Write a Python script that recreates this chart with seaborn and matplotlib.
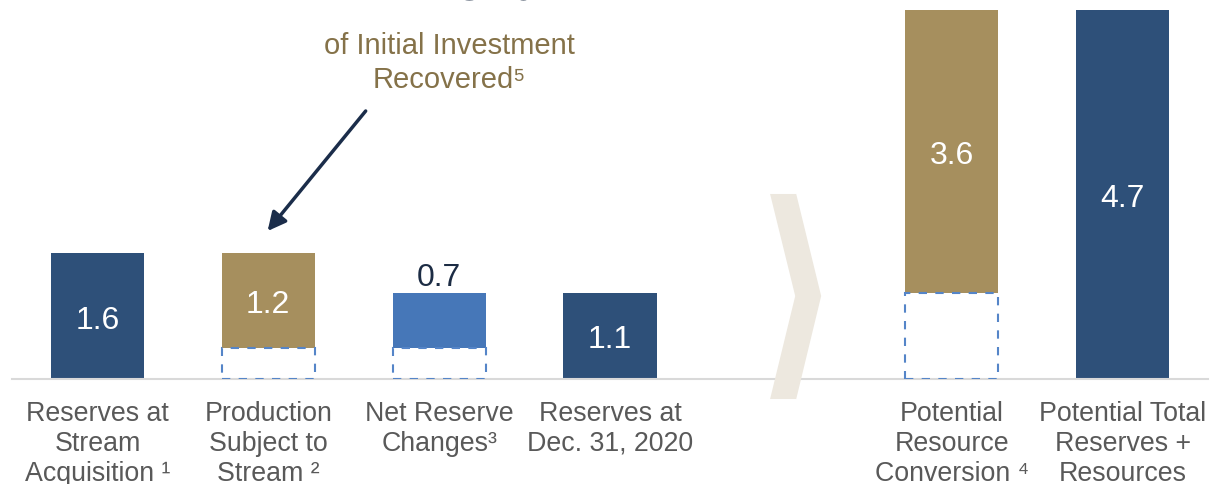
import numpy as np
import pandas as pd
import matplotlib.pyplot as plt
import seaborn as sns
from matplotlib.patches import Polygon

# waterfall steps
steps = ["Reserves at\nStream\nAcquisition \u00b9",
         "Production\nSubject to\nStream \u00b2",
         "Net Reserve\nChanges\u00b3",
         "Reserves at\nDec. 31, 2020",
         "",
         "Potential\nResource\nConversion \u2074",
         "Potential Total\nReserves +\nResources"]
values = [1.6, 1.2, 0.7, 1.1, 0.0, 3.6, 4.7]
bases = [0.0, 0.4, 0.4, 0.0, 0.0, 1.1, 0.0]
bar_colors = ["#2E5079", "#A68F5E", "#4677B8", "#2E5079", "#FFFFFF", "#A68F5E", "#2E5079"]
label_inside = [True, True, False, True, None, True, True]

sns.set_style("white")
plt.rcParams["font.family"] = ["Liberation Sans", "DejaVu Sans"]

df = pd.DataFrame({"step": steps, "value": values, "base": bases})

fig = plt.figure(figsize=(12.11, 4.85), dpi=100)
ax = fig.add_axes([12 / 1211, 105 / 485, 1196 / 1211, 380 / 485])

sns.barplot(data=df, x="step", y="value", bottom=df["base"].values,
            color=bar_colors[0], width=0.545, saturation=1, linewidth=0, ax=ax)
for patch, c in zip(ax.patches, bar_colors):
    patch.set_facecolor(c)

# dashed outline under the floating bars
xs = np.arange(len(steps))
for i, b in enumerate(bases):
    if b > 0:
        ax.bar(xs[i], b, width=0.545, fill=False, edgecolor="#5585C8",
               linestyle=(0, (4, 4)), linewidth=1.5, zorder=3)

# value labels
for i, (v, b, inside) in enumerate(zip(values, bases, label_inside)):
    if inside is None:
        continue
    if inside:
        ax.text(i, b + v / 2, f"{v}", ha="center", va="center_baseline",
                color="white", fontsize=23)
    else:
        ax.text(i, b + v + 0.01, f"{v}", ha="center", va="bottom",
                color="#1C2C44", fontsize=23)

# chevron separator
chev = Polygon([(3.937, 2.357), (4.090, 2.357), (4.236, 1.057),
                (4.090, -0.255), (3.937, -0.255), (4.084, 1.057)],
               closed=True, facecolor="#EDE8DF", edgecolor="none",
               zorder=5, clip_on=False)
ax.add_patch(chev)

# callout
ax.text(2.06, 4.83, "~115%", ha="center", va="baseline", fontsize=40,
        fontweight="bold", color="#1C2C44", clip_on=False)
ax.text(2.06, 3.64, "of Initial Investment\nRecovered\u2075", ha="center",
        va="bottom", fontsize=21, color="#857249", linespacing=1.3)
ax.annotate("", xy=(0.996, 1.885), xytext=(1.57, 3.414),
            arrowprops=dict(arrowstyle="-|>,head_length=1.1,head_width=0.55",
                            color="#1B2D4A", lw=2.5, shrinkA=0, shrinkB=0))

ax.set_xlim(-0.5, 6.5)
ax.set_ylim(0, 380 / 78.5)
ax.set_xlabel("")
ax.set_ylabel("")
ax.set_yticks([])
for s in ["top", "left", "right"]:
    ax.spines[s].set_visible(False)
ax.spines["bottom"].set_color("#D9D9D9")
ax.spines["bottom"].set_linewidth(1.5)

ax.set_xticks(xs)
ax.set_xticklabels(steps, fontsize=19.3, color="#595959", linespacing=1.2,
                   va="top")
ax.set_xticks(np.arange(-0.5, 7, 1), minor=True)
ax.tick_params(axis="x", which="major", length=0, pad=15)
ax.tick_params(axis="x", which="minor", length=8, width=1.5,
               color="#D9D9D9", direction="out")

fig.savefig("out.png", dpi=100)
